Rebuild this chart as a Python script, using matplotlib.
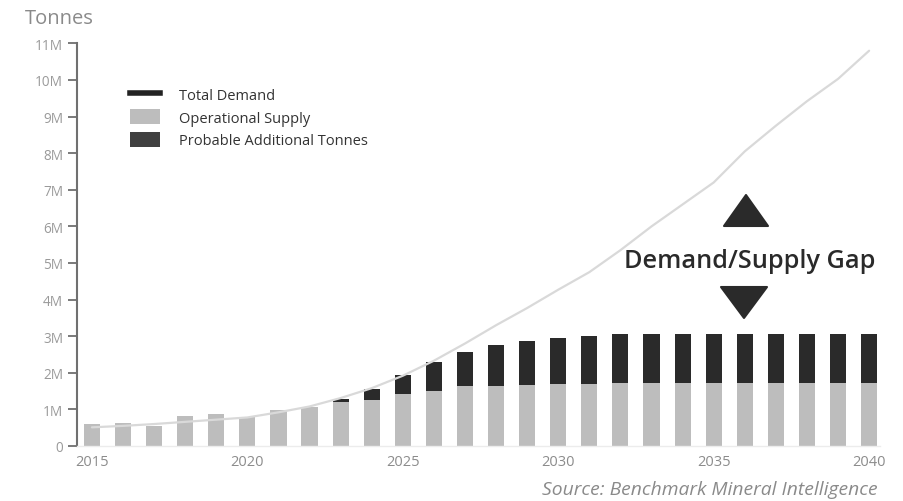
import matplotlib
matplotlib.use("Agg")
import matplotlib.pyplot as plt
from matplotlib.patches import Patch, Polygon
from matplotlib.lines import Line2D

years = list(range(2015, 2041))
operational_supply = [0.60, 0.64, 0.56, 0.83, 0.88, 0.79, 0.97, 1.06, 1.20, 1.26,
                      1.41, 1.50, 1.64, 1.64, 1.67, 1.70, 1.70, 1.73, 1.73, 1.73,
                      1.73, 1.73, 1.73, 1.73, 1.73, 1.73]
probable_additional = [0, 0, 0, 0, 0, 0, 0, 0, 0.09, 0.30,
                       0.54, 0.79, 0.94, 1.13, 1.19, 1.25, 1.30, 1.32, 1.32, 1.32,
                       1.32, 1.32, 1.32, 1.32, 1.32, 1.32]
total_demand = [0.51, 0.55, 0.60, 0.66, 0.72, 0.78, 0.92, 1.08, 1.31, 1.58,
                1.92, 2.33, 2.80, 3.30, 3.77, 4.27, 4.75, 5.35, 6.00, 6.60,
                7.20, 8.05, 8.75, 9.42, 10.03, 10.80]
y_ticks = list(range(0, 12))
y_tick_labels = ["0"] + [f"{i}M" for i in range(1, 12)]
x_ticks = [2015, 2020, 2025, 2030, 2035, 2040]

plt.rcParams['font.family'] = ['Open Sans', 'DejaVu Sans']

W, H = 904, 502
fig = plt.figure(figsize=(W / 100, H / 100), dpi=100)
ax = fig.add_axes([77 / W, 1 - 447 / H, (880 - 77) / W, (447 - 44.4) / H])

bw = 0.52
ax.bar(years, operational_supply, width=bw, color="#bdbdbd", zorder=2)
ax.bar(years, probable_additional, width=bw, bottom=operational_supply,
       color="#2a2a2a", zorder=2)
ax.plot(years, total_demand, color="#d9d9d9", lw=1.6, zorder=3,
        solid_capstyle="round")

ax.set_xlim(2014.52, 2040.35)
ax.set_ylim(0, 11)
ax.set_yticks(y_ticks)
ax.set_yticklabels(y_tick_labels)
ax.set_xticks(x_ticks)

for s in ["top", "right"]:
    ax.spines[s].set_visible(False)
ax.spines["left"].set_color("#707070")
ax.spines["left"].set_linewidth(1.5)
ax.spines["bottom"].set_color("#ececec")
ax.spines["bottom"].set_linewidth(1.0)
ax.tick_params(axis="y", length=6.5, width=1.3, color="#707070",
               labelcolor="#9a9a9a", labelsize=9.8, pad=3.5)
ax.tick_params(axis="x", length=0, labelcolor="#8c8c8c", labelsize=10.5, pad=6)

# legend
handles = [Line2D([0], [0], color="#222222", lw=4),
           Patch(facecolor="#bdbdbd"),
           Patch(facecolor="#404040")]
labels = ["Total Demand", "Operational Supply", "Probable Additional Tonnes"]
ax.legend(handles, labels, loc="upper left", bbox_to_anchor=(0.05, 0.925),
          frameon=False, fontsize=10.5, handlelength=2.05, handleheight=1.15,
          labelspacing=0.45, handletextpad=1.3, labelcolor="#333333")

# annotation
fig.text(750 / W, 1 - 262 / H, "Demand/Supply Gap", ha="center", va="center",
         fontsize=18.2, color="#2a2a2a", fontweight="semibold")

def px(x, y):
    return (x / W, 1 - y / H)

up = Polygon([px(724, 227), px(768, 227), px(746, 196)], closed=True,
             transform=fig.transFigure, facecolor="#2a2a2a", edgecolor="#2a2a2a",
             lw=1.5, joinstyle="round")
down = Polygon([px(721, 288), px(767, 288), px(744, 319)], closed=True,
               transform=fig.transFigure, facecolor="#2a2a2a", edgecolor="#2a2a2a",
               lw=1.5, joinstyle="round")
fig.patches.extend([up, down])

fig.text(25 / W, 1 - 19 / H, "Tonnes", ha="left", va="center", fontsize=14.5,
         color="#8a8a8a")
fig.text(878 / W, 1 - 490 / H, "Source: Benchmark Mineral Intelligence",
         ha="right", va="center", fontsize=13.9, color="#8a8a8a", style="italic")

fig.savefig("out.png", dpi=100)
